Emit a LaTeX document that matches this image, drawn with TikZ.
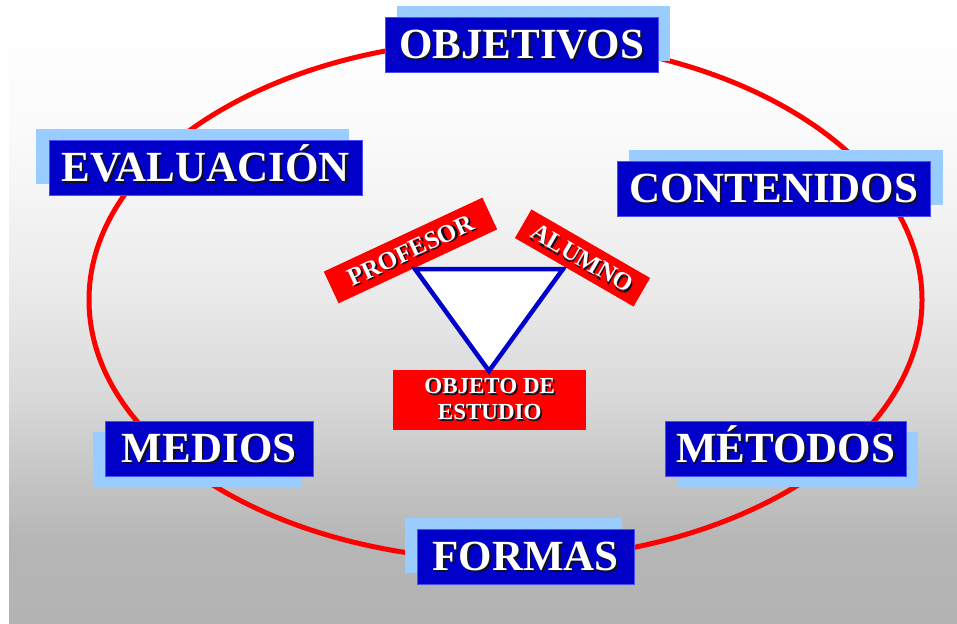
\documentclass[tikz,border=0pt]{standalone}
\usepackage{fontspec}
\setmainfont{Liberation Serif}
\definecolor{dkblue}{HTML}{0000C8}
\definecolor{ltblue}{HTML}{99CCFF}
\definecolor{redc}{HTML}{FF0000}
\definecolor{shadowc}{HTML}{111122}
\definecolor{trib}{HTML}{0000CC}
\definecolor{g0}{HTML}{FFFFFF}
\definecolor{g1}{HTML}{FBFBFB}
\definecolor{g2}{HTML}{F4F4F4}
\definecolor{g3}{HTML}{E9E9E9}
\definecolor{g4}{HTML}{D8D8D8}
\definecolor{g5}{HTML}{C4C4C4}
\definecolor{g6}{HTML}{B6B6B6}
\definecolor{g7}{HTML}{B3B3B3}
\newcommand\shd[1]{\rlap{\kern1.8pt\raisebox{-1.8pt}{\color{shadowc}#1}}#1}
\tikzset{
  lightbox/.style={fill=ltblue, inner sep=0pt, anchor=north west, minimum height=55pt},
  darkbox/.style={fill=dkblue, draw=blue!70!white, line width=0.4pt, inner sep=0pt, anchor=north west, minimum height=55pt,
    text=white, font=\bfseries\fontsize{43}{43}\selectfont, text height=28.5pt, text depth=0pt},
  redbox/.style={fill=redc, inner sep=0pt, text=white, font=\bfseries\fontsize{25}{25}\selectfont, text height=16.5pt, text depth=0pt},
  cycleline/.style={draw=redc, line width=5pt},
  triline/.style={draw=trib, fill=white, line width=4.5pt, line join=miter}
}
\begin{document}
\begin{tikzpicture}[x=1pt,y=-1pt]
\useasboundingbox (0,0) rectangle (957,623);
\fill[white] (0,0) rectangle (957,623);
% background gradient
\shade[top color=g0, bottom color=g1] (9,9) rectangle (957,120.5);
\shade[top color=g1, bottom color=g2] (9,120) rectangle (957,200.5);
\shade[top color=g2, bottom color=g3] (9,200) rectangle (957,300.5);
\shade[top color=g3, bottom color=g4] (9,300) rectangle (957,400.5);
\shade[top color=g4, bottom color=g5] (9,400) rectangle (957,480.5);
\shade[top color=g5, bottom color=g6] (9,480) rectangle (957,540.5);
\shade[top color=g6, bottom color=g7] (9,540) rectangle (957,623);
% cycle
\draw[cycleline] (505.5,300) ellipse [x radius=416.5pt, y radius=260pt];
% outer boxes
\node[lightbox, minimum width=273pt] (objL) at (397,6) {};
\node[darkbox, minimum width=273pt] (obj) at (385,17) {\shd{OBJETIVOS}};
\node[lightbox, minimum width=313pt] (evaL) at (36,129) {};
\node[darkbox, minimum width=313pt] (eva) at (49,140) {\shd{EVALUACIÓN}};
\node[lightbox, minimum width=314pt] (conL) at (629,150) {};
\node[darkbox, minimum width=313pt] (con) at (617,161) {\shd{CONTENIDOS}};
\node[lightbox, minimum width=209pt] (medL) at (93,432) {};
\node[darkbox, minimum width=208pt] (med) at (105,421) {\shd{MEDIOS}};
\node[lightbox, minimum width=241pt] (metL) at (677,432) {};
\node[darkbox, minimum width=241pt] (met) at (665,421) {\shd{MÉTODOS}};
\node[lightbox, minimum width=217pt] (forL) at (405,518) {};
\node[darkbox, minimum width=217pt] (for) at (417,529) {\shd{FORMAS}};
% center
\node[redbox, rotate=25, minimum width=175pt, minimum height=35pt] (prof) at (410.5,250.5) {\shd{PROFESOR}};
\node[redbox, rotate=-30, minimum width=137pt, minimum height=33pt] (alum) at (582.5,258) {\shd{ALUMNO}};
\node[fill=redc, inner sep=0pt, anchor=north west, minimum width=193pt, minimum height=60pt,
      text=white, font=\bfseries\fontsize{23}{26}\selectfont, align=center] (obje) at (393,370)
      {\shd{OBJETO DE}\\\shd{ESTUDIO}};
\coordinate (t1) at (415,269);
\coordinate (t2) at (563,269);
\coordinate (t3) at (489,371);
\draw[triline] (t1) -- (t2) -- (t3) -- cycle;
\end{tikzpicture}
\end{document}
